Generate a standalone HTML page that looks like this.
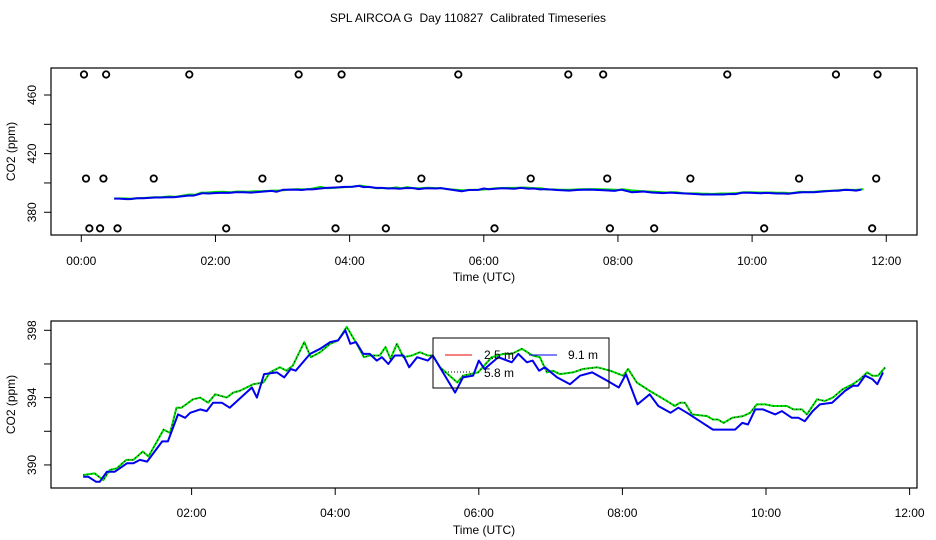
<!DOCTYPE html>
<html><head><meta charset="utf-8">
<style>
body{margin:0;background:#fff;}
svg{display:block;font-family:"Liberation Sans",sans-serif;}
</style></head>
<body>
<svg id="chart" width="936" height="540" viewBox="0 0 936 540" xmlns="http://www.w3.org/2000/svg">
<text x="468" y="22" font-size="12" text-anchor="middle" style="white-space:pre">SPL AIRCOA G  Day 110827  Calibrated Timeseries</text>
<g id="topPanel"></g>
<g id="botPanel"></g>
</svg>
<script>
// Data (time in hours UTC, values ppm)
const greenT=[0.49,0.65,0.77,0.86,0.96,1.09,1.19,1.32,1.40,1.61,1.70,1.79,1.86,2.02,2.12,2.23,2.33,2.49,2.58,2.67,2.86,3.0,3.09,3.23,3.32,3.41,3.57,3.66,3.79,3.93,4.04,4.16,4.30,4.40,4.48,4.62,4.70,4.77,4.86,4.95,5.07,5.18,5.29,5.36,5.46,5.70,5.78,5.99,6.18,6.34,6.46,6.60,6.75,6.85,6.95,7.03,7.13,7.31,7.45,7.65,7.83,8.01,8.08,8.20,8.38,8.62,8.73,8.80,8.87,8.97,9.18,9.26,9.33,9.41,9.53,9.68,9.78,9.87,9.99,10.10,10.29,10.38,10.5,10.57,10.71,10.82,10.93,11.07,11.21,11.31,11.41,11.48,11.56,11.66];
const greenV=[389.4,389.5,389.1,389.7,389.8,390.3,390.3,390.8,390.5,392.1,391.9,393.4,393.4,393.9,394.0,393.7,394.2,394.0,394.3,394.4,394.8,394.9,395.5,395.8,395.6,395.9,397.3,396.4,396.7,397.2,397.4,398.2,397.2,396.4,396.5,396.5,397.0,396.3,397.2,396.4,396.5,396.7,396.5,396.5,395.8,394.9,395.3,395.5,396.4,396.6,396.6,396.9,396.5,396.4,395.5,395.6,395.4,395.5,395.7,395.8,395.6,395.3,395.7,394.9,394.4,393.8,393.5,393.7,393.7,393.0,392.9,392.7,392.7,392.5,392.8,392.9,393.1,393.6,393.6,393.5,393.5,393.3,393.3,393.0,393.9,393.8,394.0,394.5,394.8,395.1,395.5,395.3,395.3,395.8];
const blueT=[0.49,0.56,0.67,0.72,0.82,0.93,1.1,1.19,1.28,1.38,1.59,1.67,1.81,1.91,1.98,2.12,2.21,2.30,2.42,2.53,2.84,2.91,3.01,3.19,3.29,3.38,3.45,3.65,3.79,3.93,4.04,4.14,4.21,4.29,4.39,4.48,4.58,4.65,4.74,4.83,4.95,5.03,5.14,5.29,5.36,5.67,5.78,5.92,6.0,6.08,6.27,6.46,6.55,6.67,6.75,6.84,6.92,7.09,7.27,7.41,7.58,7.79,7.95,8.05,8.21,8.38,8.50,8.67,8.78,8.90,9.08,9.26,9.57,9.67,9.75,9.85,9.96,10.13,10.22,10.36,10.45,10.54,10.65,10.75,10.92,11.10,11.21,11.28,11.38,11.48,11.55,11.63];
const blueV=[389.3,389.3,389.0,389.0,389.6,389.6,390.1,390.1,390.3,390.2,391.4,391.4,393.0,392.8,393.1,393.3,393.2,393.7,393.7,393.4,394.6,394.0,395.4,395.5,395.2,395.7,395.6,396.6,396.9,397.3,397.4,398.0,397.2,397.3,396.6,396.6,396.2,396.4,396.0,396.5,396.5,395.8,396.4,396.2,396.5,394.3,395.2,395.3,396.2,395.7,396.4,396.1,396.6,396.1,396.2,395.6,395.8,395.2,394.8,395.3,395.5,395.0,394.6,395.4,393.6,394.2,393.5,393.1,393.4,393.1,392.6,392.1,392.1,392.5,392.4,393.3,393.3,393.0,393.2,392.8,392.8,392.6,393.2,393.6,393.7,394.4,394.7,394.7,395.3,395.1,394.8,395.5];
const outT=[0.04,0.37,1.61,3.24,3.88,5.62,7.26,7.78,9.63,11.25,11.87, 0.07,0.33,1.08,2.70,3.84,5.07,6.70,7.84,9.08,10.70,11.85, 0.12,0.28,0.54,2.16,3.79,4.54,6.16,7.88,8.54,10.18,11.79];
const outV=[474,474,474,474,474,474,474,474,474,474,474, 403,403,403,403,403,403,403,403,403,403,403, 369,369,369,369,369,369,369,369,369,369,369];
const xTickHours=[0,2,4,6,8,10,12];
const xTickLabels=["00:00","02:00","04:00","06:00","08:00","10:00","12:00"];
const topYTicks=[380,400,420,440,460];
const topYLabels=["380","","420","","460"];
const botYTicks=[390,392,394,396,398];
const botYLabels=["390","","394","","398"];

const NS="http://www.w3.org/2000/svg";
function mk(parent,tag,attrs,text){const e=document.createElementNS(NS,tag);for(const k in attrs)e.setAttribute(k,attrs[k]);if(text!==undefined)e.textContent=text;parent.appendChild(e);return e;}

function panel(g,box,xs,ys,yT,yL,xT,xL,ylabTitle,tickLblY,titleY,firstTick){
  const r=mk(g,'rect',{x:box.x0,y:box.y0,width:box.x1-box.x0,height:box.y1-box.y0,fill:'none',stroke:'#000','stroke-width':1.2});
  
  
  for(let i=firstTick;i<xT.length;i++){
    const x=xs(xT[i]);
    const t=mk(g,'line',{x1:x,x2:x,y1:box.y1,y2:box.y1+7,stroke:'#000'});
    
    
    const l=mk(g,'text',{x:x,y:tickLblY,'font-size':12,'text-anchor':'middle'},xL[i]);
    
    
  }
  yT.forEach((v,i)=>{
    const y=ys(v);
    const t=mk(g,'line',{x1:box.x0-7,x2:box.x0,y1:y,y2:y,stroke:'#000'});
    
    
    if(yL[i]){
      const l=mk(g,'text',{x:0,y:0,'font-size':12,'text-anchor':'middle',transform:`translate(36,${y}) rotate(-90)`},yL[i]);
      
      
    }
  });
  const xt=mk(g,'text',{x:484,y:titleY,'font-size':12,'text-anchor':'middle'},'Time (UTC)');
  
  
  const yt=mk(g,'text',{x:0,y:0,'font-size':12,'text-anchor':'middle',transform:`translate(15,${(box.y0+box.y1)/2}) rotate(-90)`},ylabTitle);
  
  
}
function series(g,xs,ys,T,V,color,w,name,dash){
  const d=T.map((t,i)=>(i?'L':'M')+xs(t).toFixed(1)+','+ys(V[i]).toFixed(1)).join(' ');
  const p=mk(g,'path',{d:d,fill:'none',stroke:color,'stroke-width':w,'stroke-linejoin':'round'});
  if(dash)p.setAttribute('stroke-dasharray',dash);
  
  
}

// Top panel
const topG=document.getElementById('topPanel');
const tb={x0:51,x1:917,y0:68,y1:235};
const txs=h=>81.3+h*67.08, tys=v=>95-(v-460)*1.466;
panel(topG,tb,txs,tys,topYTicks,topYLabels,xTickHours,xTickLabels,'CO2 (ppm)',265,281,0);
series(topG,txs,tys,greenT,greenV,'#00dd00',2,'series-5-8m-top');
series(topG,txs,tys,blueT,blueV,'#0000ee',2,'series-9-1m-top');
outT.forEach((t,i)=>{
  const c=mk(topG,'circle',{cx:txs(t),cy:tys(outV[i]),r:3.2,fill:'none',stroke:'#000','stroke-width':1.8});
  
  
});

// Bottom panel
const botG=document.getElementById('botPanel');
const bb={x0:51,x1:917,y0:321,y1:488};
const bxs=h=>48+h*71.8, bys=v=>330.3-(v-398)*16.83;
panel(botG,bb,bxs,bys,botYTicks,botYLabels,xTickHours,xTickLabels,'CO2 (ppm)',517,534,1);
series(botG,bxs,bys,greenT,greenV,'#00dd00',2,'series-5-8m');
series(botG,bxs,bys,greenT,greenV,'#000',1,'series-5-8m-dots','1 3');
series(botG,bxs,bys,blueT,blueV,'#0000ee',2,'series-9-1m');

// Legend
const lg=mk(botG,'g',{});


mk(lg,'rect',{x:433,y:338,width:176,height:50,fill:'none',stroke:'#000','stroke-width':1});
const e1=mk(lg,'line',{x1:445,x2:472,y1:355,y2:355,stroke:'#ee0000'});


mk(lg,'text',{x:484,y:359,'font-size':12},'2.5 m');
const e2=mk(lg,'line',{x1:529,x2:557,y1:355,y2:355,stroke:'#0000ee'});


mk(lg,'text',{x:568,y:359,'font-size':12},'9.1 m');
const e3=mk(lg,'line',{x1:445,x2:472,y1:372,y2:372,stroke:'#000','stroke-dasharray':'1 2'});


mk(lg,'text',{x:484,y:377,'font-size':12},'5.8 m');
</script>
</body></html>
